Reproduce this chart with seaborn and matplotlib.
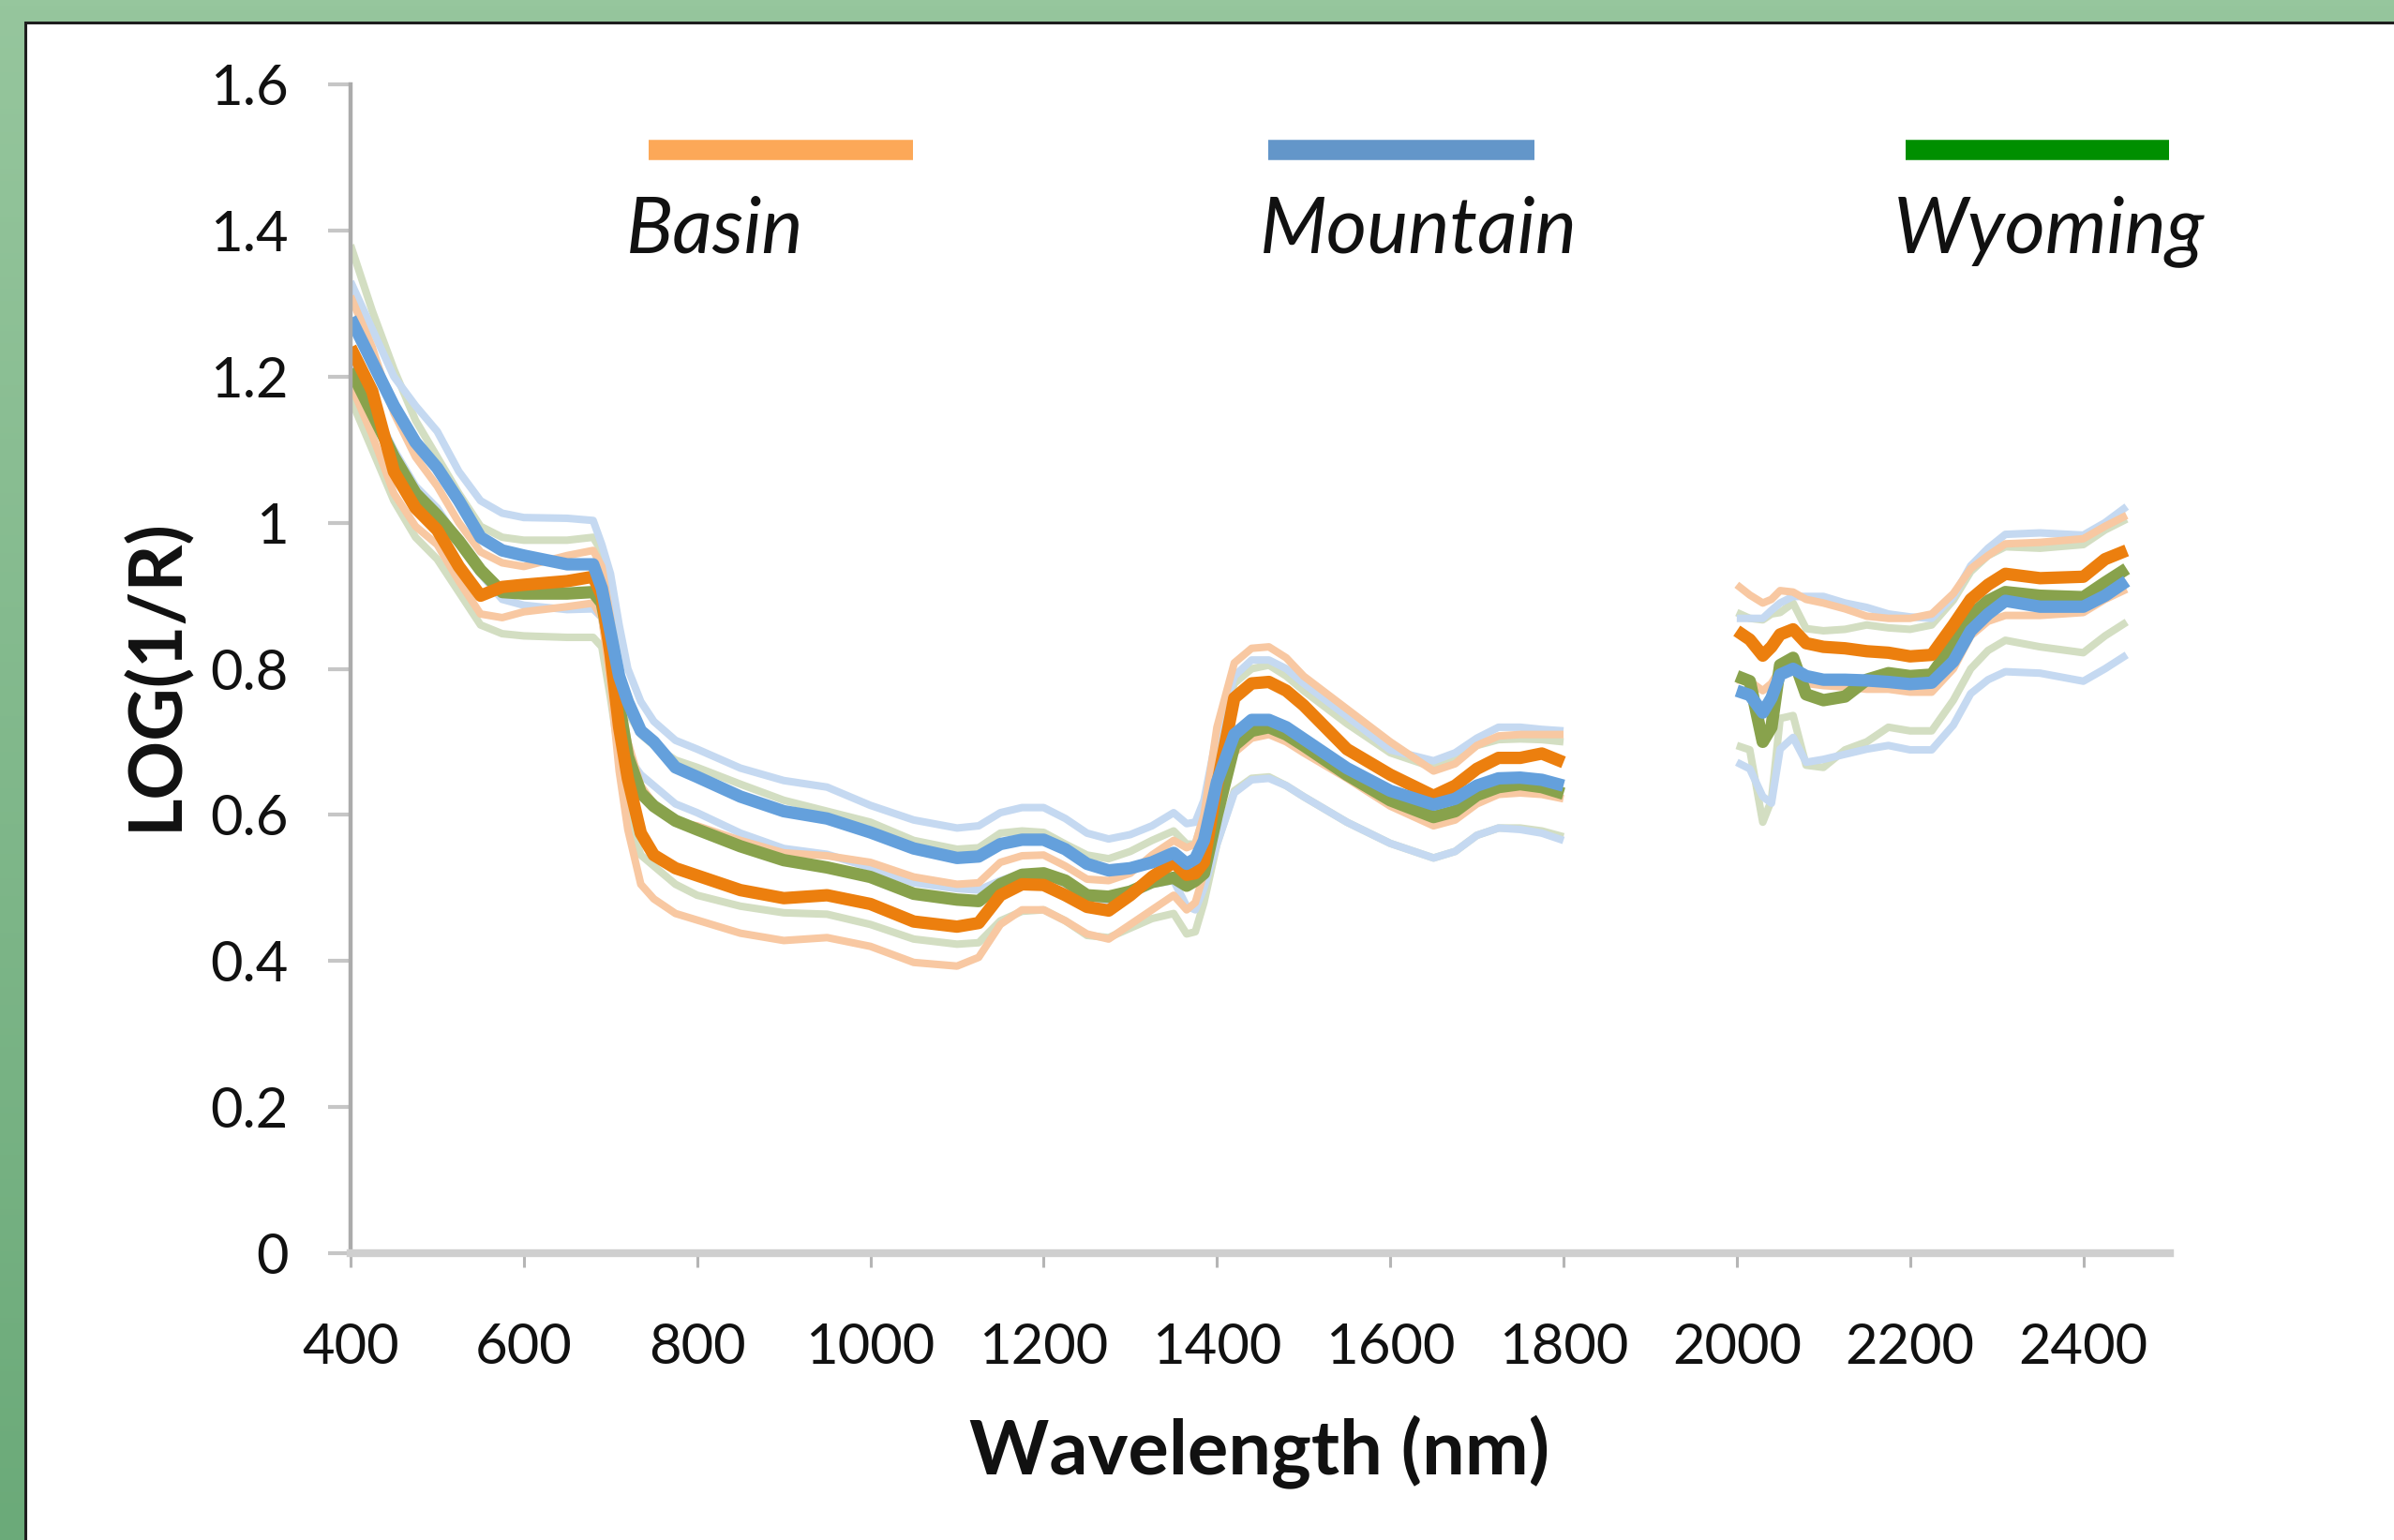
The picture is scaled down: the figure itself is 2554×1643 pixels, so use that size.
import numpy as np
import pandas as pd
import matplotlib
matplotlib.use("Agg")
import matplotlib.pyplot as plt
import seaborn as sns
from matplotlib.patches import Rectangle
from matplotlib.lines import Line2D
from matplotlib.colors import LinearSegmentedColormap

# ---------------- data ----------------
wl_a = [400, 425, 450, 475, 500, 525, 550, 575, 600, 650, 680, 690, 700, 710, 720,
        735, 750, 775, 800, 850, 900, 950, 1000, 1050, 1100, 1125, 1150, 1175, 1200, 1225,
        1250, 1275, 1300, 1325, 1350, 1365, 1375, 1385, 1400, 1420, 1440, 1460, 1480, 1500,
        1550, 1600, 1650, 1675, 1700, 1725, 1750, 1775, 1800]
wl_b = [2000, 2015, 2030, 2040, 2050, 2065, 2080, 2100, 2125, 2150, 2175, 2200, 2225,
        2250, 2270, 2290, 2310, 2350, 2400, 2425, 2450]

mountain_mean_a = [1.28, 1.22, 1.16, 1.11, 1.075, 1.03, 0.98, 0.962, 0.955, 0.943,
                   0.943, 0.91, 0.85, 0.79, 0.755, 0.715, 0.70, 0.665, 0.652, 0.625,
                   0.605, 0.595, 0.576, 0.554, 0.541, 0.543, 0.56, 0.566, 0.566, 0.553,
                   0.533, 0.524, 0.527, 0.535, 0.548, 0.533, 0.54, 0.565, 0.645, 0.71,
                   0.73, 0.73, 0.72, 0.704, 0.664, 0.633, 0.614, 0.622, 0.64, 0.65,
                   0.651, 0.648, 0.64]
basin_mean_a = [1.24, 1.18, 1.07, 1.02, 0.99, 0.94, 0.90, 0.912, 0.915, 0.92,
                0.926, 0.90, 0.82, 0.72, 0.65, 0.575, 0.545, 0.527, 0.517, 0.497,
                0.486, 0.49, 0.478, 0.454, 0.447, 0.452, 0.49, 0.505, 0.504, 0.49,
                0.474, 0.469, 0.49, 0.515, 0.535, 0.518, 0.52, 0.535, 0.64, 0.76,
                0.78, 0.782, 0.77, 0.75, 0.69, 0.655, 0.626, 0.64, 0.663, 0.678,
                0.678, 0.684, 0.672]
wyoming_mean_a = [1.21, 1.15, 1.09, 1.04, 1.01, 0.975, 0.935, 0.905, 0.903, 0.903,
                  0.905, 0.89, 0.83, 0.75, 0.68, 0.63, 0.612, 0.592, 0.58, 0.557,
                  0.538, 0.528, 0.515, 0.492, 0.484, 0.482, 0.505, 0.518, 0.52, 0.51,
                  0.49, 0.488, 0.495, 0.508, 0.514, 0.503, 0.51, 0.52, 0.60, 0.695,
                  0.715, 0.72, 0.71, 0.695, 0.655, 0.62, 0.597, 0.605, 0.627, 0.638,
                  0.642, 0.638, 0.629]
mountain_upper_a = [1.33, 1.265, 1.20, 1.16, 1.125, 1.07, 1.03, 1.013, 1.007, 1.006,
                    1.003, 0.97, 0.93, 0.86, 0.80, 0.755, 0.728, 0.702, 0.69, 0.664,
                    0.647, 0.638, 0.613, 0.593, 0.582, 0.585, 0.603, 0.61, 0.61, 0.595,
                    0.575, 0.567, 0.573, 0.585, 0.603, 0.588, 0.59, 0.62, 0.71, 0.79,
                    0.812, 0.812, 0.80, 0.78, 0.735, 0.689, 0.674, 0.685, 0.705, 0.72,
                    0.72, 0.717, 0.715]
mountain_lower_a = [1.22, 1.16, 1.10, 1.05, 1.02, 0.975, 0.93, 0.895, 0.887, 0.881,
                    0.882, 0.87, 0.80, 0.73, 0.68, 0.655, 0.64, 0.615, 0.603, 0.575,
                    0.554, 0.546, 0.528, 0.507, 0.499, 0.497, 0.51, 0.52, 0.52, 0.505,
                    0.49, 0.48, 0.49, 0.505, 0.51, 0.475, 0.47, 0.50, 0.56, 0.63,
                    0.648, 0.65, 0.64, 0.625, 0.59, 0.561, 0.541, 0.55, 0.572, 0.582,
                    0.58, 0.575, 0.565]
basin_upper_a = [1.31, 1.24, 1.15, 1.09, 1.05, 1.00, 0.96, 0.945, 0.94, 0.955,
                 0.962, 0.94, 0.87, 0.77, 0.70, 0.64, 0.615, 0.59, 0.585, 0.565,
                 0.548, 0.544, 0.535, 0.515, 0.505, 0.507, 0.535, 0.544, 0.545, 0.53,
                 0.512, 0.51, 0.52, 0.545, 0.565, 0.555, 0.56, 0.60, 0.72, 0.808,
                 0.828, 0.83, 0.815, 0.79, 0.745, 0.70, 0.66, 0.67, 0.695, 0.708,
                 0.71, 0.71, 0.71]
basin_lower_a = [1.19, 1.12, 1.04, 0.995, 0.97, 0.92, 0.875, 0.87, 0.878, 0.885,
                 0.89, 0.87, 0.78, 0.66, 0.58, 0.505, 0.485, 0.465, 0.456, 0.438,
                 0.428, 0.432, 0.42, 0.398, 0.393, 0.405, 0.45, 0.47, 0.47, 0.455,
                 0.437, 0.43, 0.45, 0.47, 0.49, 0.47, 0.48, 0.52, 0.62, 0.685,
                 0.705, 0.71, 0.70, 0.685, 0.65, 0.612, 0.585, 0.593, 0.615, 0.628,
                 0.63, 0.628, 0.622]
wyoming_upper_a = [1.38, 1.29, 1.21, 1.14, 1.09, 1.04, 0.995, 0.98, 0.976, 0.976,
                   0.98, 0.96, 0.88, 0.80, 0.74, 0.71, 0.695, 0.675, 0.665, 0.642,
                   0.62, 0.605, 0.59, 0.565, 0.553, 0.555, 0.575, 0.578, 0.576, 0.56,
                   0.545, 0.54, 0.55, 0.565, 0.578, 0.56, 0.56, 0.60, 0.70, 0.78,
                   0.80, 0.805, 0.79, 0.77, 0.725, 0.685, 0.665, 0.675, 0.695, 0.703,
                   0.704, 0.703, 0.70]
wyoming_lower_a = [1.17, 1.10, 1.03, 0.98, 0.95, 0.905, 0.86, 0.848, 0.845, 0.843,
                   0.843, 0.83, 0.76, 0.68, 0.60, 0.545, 0.53, 0.505, 0.49, 0.475,
                   0.466, 0.464, 0.45, 0.43, 0.423, 0.425, 0.455, 0.468, 0.47, 0.455,
                   0.435, 0.432, 0.445, 0.458, 0.465, 0.437, 0.44, 0.48, 0.56, 0.633,
                   0.65, 0.652, 0.64, 0.625, 0.59, 0.561, 0.541, 0.55, 0.572, 0.582,
                   0.582, 0.578, 0.57]

basin_mean_b = [0.852, 0.84, 0.818, 0.83, 0.847, 0.854, 0.835, 0.83, 0.828, 0.824, 0.822,
                0.817, 0.819, 0.86, 0.895, 0.915, 0.93, 0.924, 0.926, 0.95, 0.962]
mountain_mean_b = [0.77, 0.764, 0.74, 0.76, 0.792, 0.80, 0.79, 0.785, 0.785, 0.784, 0.782,
                   0.779, 0.781, 0.81, 0.852, 0.875, 0.893, 0.885, 0.885, 0.90, 0.92]
wyoming_mean_b = [0.79, 0.783, 0.70, 0.72, 0.805, 0.815, 0.765, 0.757, 0.762, 0.785, 0.794,
                  0.79, 0.792, 0.834, 0.873, 0.893, 0.905, 0.90, 0.898, 0.918, 0.937]
basin_upper_b = [0.915, 0.901, 0.89, 0.895, 0.907, 0.905, 0.895, 0.89, 0.882, 0.872, 0.869,
                 0.869, 0.875, 0.903, 0.937, 0.955, 0.971, 0.973, 0.978, 0.995, 1.01]
mountain_upper_b = [0.869, 0.869, 0.869, 0.88, 0.89, 0.899, 0.899, 0.899, 0.89, 0.884, 0.875,
                    0.871, 0.869, 0.899, 0.941, 0.965, 0.984, 0.986, 0.983, 1.0, 1.022]
wyoming_upper_b = [0.877, 0.869, 0.867, 0.875, 0.877, 0.89, 0.855, 0.852, 0.854, 0.86, 0.856,
                   0.854, 0.86, 0.894, 0.933, 0.955, 0.967, 0.965, 0.97, 0.99, 1.005]
basin_lower_b = [0.785, 0.783, 0.77, 0.78, 0.80, 0.805, 0.78, 0.777, 0.775, 0.772, 0.772,
                 0.768, 0.768, 0.80, 0.845, 0.865, 0.873, 0.873, 0.877, 0.895, 0.909]
wyoming_lower_b = [0.695, 0.689, 0.59, 0.62, 0.732, 0.736, 0.668, 0.665, 0.689, 0.70, 0.72,
                   0.715, 0.715, 0.757, 0.80, 0.825, 0.839, 0.83, 0.822, 0.845, 0.864]
mountain_lower_b = [0.672, 0.663, 0.625, 0.616, 0.69, 0.706, 0.672, 0.676, 0.683, 0.69, 0.695,
                    0.689, 0.689, 0.723, 0.766, 0.785, 0.796, 0.794, 0.783, 0.80, 0.819]

groups = ["Basin", "Mountain", "Wyoming"]
legend_colors = ["#FCA858", "#6396C9", "#008F00"]
x_ticks = [400, 600, 800, 1000, 1200, 1400, 1600, 1800, 2000, 2200, 2400]
y_ticks = [0, 0.2, 0.4, 0.6, 0.8, 1.0, 1.2, 1.4, 1.6]
y_tick_labels = ["0", "0.2", "0.4", "0.6", "0.8", "1", "1.2", "1.4", "1.6"]

# ---------------- long table ----------------
series = [
    ("Wyoming upper", "sd", wyoming_upper_a, wyoming_upper_b),
    ("Wyoming lower", "sd", wyoming_lower_a, wyoming_lower_b),
    ("Mountain upper", "sd", mountain_upper_a, mountain_upper_b),
    ("Mountain lower", "sd", mountain_lower_a, mountain_lower_b),
    ("Basin upper", "sd", basin_upper_a, basin_upper_b),
    ("Basin lower", "sd", basin_lower_a, basin_lower_b),
    ("Wyoming mean", "mean", wyoming_mean_a, wyoming_mean_b),
    ("Basin mean", "mean", basin_mean_a, basin_mean_b),
    ("Mountain mean", "mean", mountain_mean_a, mountain_mean_b),
]
frames = []
for name, kind, va, vb in series:
    frames.append(pd.DataFrame({"wavelength": wl_a, "value": va, "line": name,
                                "kind": kind, "segment": "vnir"}))
    frames.append(pd.DataFrame({"wavelength": wl_b, "value": vb, "line": name,
                                "kind": kind, "segment": "swir"}))
df = pd.concat(frames, ignore_index=True)

palette = {
    "Basin mean": "#EC7F0E", "Basin upper": "#F8C8A2", "Basin lower": "#F8C8A2",
    "Mountain mean": "#64A0DC", "Mountain upper": "#C5D9F1", "Mountain lower": "#C5D9F1",
    "Wyoming mean": "#88A24C", "Wyoming upper": "#D3DEC2", "Wyoming lower": "#D3DEC2",
}

# ---------------- figure ----------------
sns.set_style("white")
plt.rcParams["font.family"] = ["Lato", "DejaVu Sans"]

W, H = 2554, 1643
fig = plt.figure(figsize=(W / 100, H / 100), dpi=100)

bg = fig.add_axes([0, 0, 1, 1], zorder=-10)
grad = np.linspace(0, 1, 256).reshape(-1, 1)
cmap = LinearSegmentedColormap.from_list("g", ["#96C69D", "#6BAA79"])
bg.imshow(grad, aspect="auto", cmap=cmap, extent=[0, 1, 0, 1], origin="upper")
bg.add_patch(Rectangle((27 / W, -0.05), 1.1, 1.05 - 24 / H, transform=bg.transAxes,
                       facecolor="white", edgecolor="#1E1E1E", linewidth=2.2))
bg.set_xlim(0, 1)
bg.set_ylim(0, 1)
bg.axis("off")

x0, x1 = 374, 2315
y0, y1 = 1337, 90
ax = fig.add_axes([x0 / W, (H - y0) / H, (x1 - x0) / W, (y0 - y1) / H])
ax.set_facecolor("none")

sns.lineplot(data=df, x="wavelength", y="value", hue="line", size="kind",
             sizes={"mean": 9.5, "sd": 5.8}, units="segment", estimator=None,
             sort=False, palette=palette, hue_order=[s[0] for s in series],
             legend=False, ax=ax)
for ln in ax.get_lines():
    ln.set_solid_joinstyle("round")
    ln.set_solid_capstyle("butt")

ax.set_xlim(400, 2500)
ax.set_ylim(0, 1.6)
ax.set_xticks(x_ticks)
ax.set_xticklabels([str(t) for t in x_ticks])
ax.set_yticks(y_ticks)
ax.set_yticklabels(y_tick_labels)

for s in ["top", "right"]:
    ax.spines[s].set_visible(False)
ax.spines["left"].set_color("#ABABAB")
ax.spines["left"].set_linewidth(3.2)
ax.spines["bottom"].set_color("#CFCFCF")
ax.spines["bottom"].set_linewidth(6)

ax.tick_params(axis="y", direction="out", length=17, width=3, color="#C6C6C6",
               pad=31, labelsize=43, labelcolor="#111111", left=True)
ax.tick_params(axis="x", direction="out", length=11, width=2.2, color="#B5B5B5",
               pad=42, labelsize=43, labelcolor="#111111", bottom=True)

ax.set_xlabel("Wavelength (nm)", fontsize=58.5, fontweight="bold", color="#111111")
ax.xaxis.set_label_coords((1344 - x0) / (x1 - x0), (y0 - 1572) / (y0 - y1))
ax.xaxis.label.set_va("baseline")
ax.set_ylabel("LOG(1/R)", fontsize=56, fontweight="bold", color="#111111")
ax.yaxis.set_label_coords((166 - x0) / (x1 - x0), (y0 - 719) / (y0 - y1))
ax.yaxis.label.set_va("center")
ax.yaxis.label.set_ha("center")

# legend-like header
bars = [(692, 974), (1353, 1637), (2033, 2314)]
label_x = [668, 1344, 2020]
for name, col, (bx0, bx1), lx in zip(groups, legend_colors, bars, label_x):
    fig.add_artist(Line2D([bx0 / W, bx1 / W], [1 - 160 / H] * 2, transform=fig.transFigure,
                          color=col, linewidth=15.5, solid_capstyle="butt"))
    fig.text(lx / W, 1 - 269 / H, name, fontsize=60, style="italic",
             ha="left", va="baseline", color="#111111")

fig.savefig("out.png", dpi=100)
